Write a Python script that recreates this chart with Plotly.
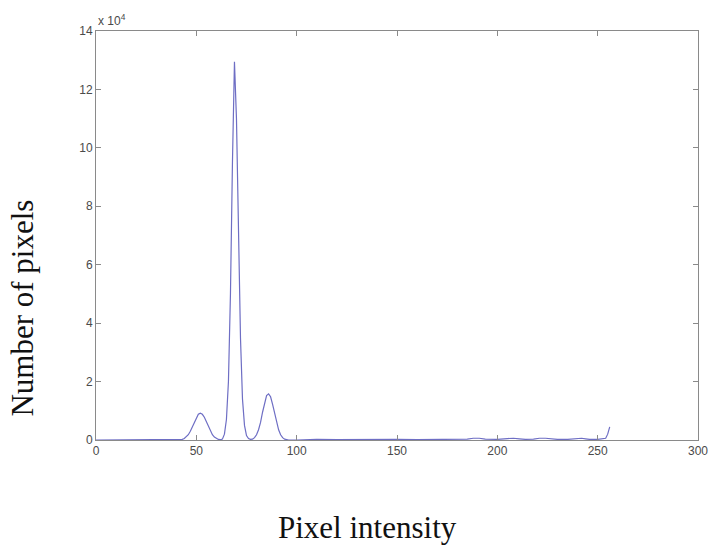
import plotly.graph_objects as go

# Pixel intensity (x) and number of pixels in units of 10^4 (y)
intensity = [0, 40, 41, 42, 43, 44, 45, 46, 47, 48, 49, 50, 51, 52, 53, 54, 55, 56, 57, 58, 59,
             60, 61, 62, 63, 64, 65, 66, 67, 68, 69, 70, 71, 72, 73, 74, 75, 76, 77, 78,
             79, 80, 81, 82, 83, 84, 85, 86, 87, 88, 89, 90, 91, 92, 93, 94, 95, 96,
             100, 110, 120, 130, 140, 150, 160, 170, 180, 185, 188, 191, 194, 197, 200,
             205, 208, 211, 214, 218, 221, 224, 227, 230, 235, 240, 242, 244, 246, 250,
             252, 254, 255, 256]
pixels_1e4 = [0.0, 0.0, 0.0, 0.01, 0.02, 0.05, 0.10, 0.18, 0.30, 0.45, 0.62, 0.78, 0.88, 0.92, 0.88, 0.78, 0.62, 0.45, 0.30, 0.18, 0.10,
              0.05, 0.02, 0.01, 0.03, 0.20, 0.70, 2.0, 5.0, 9.5, 12.95, 11.0, 7.0, 3.5, 1.4, 0.5, 0.15, 0.05, 0.02, 0.03,
              0.08, 0.18, 0.35, 0.60, 0.95, 1.30, 1.52, 1.58, 1.48, 1.22, 0.90, 0.60, 0.35, 0.18, 0.08, 0.03, 0.01, 0.0,
              0.0, 0.02, 0.01, 0.02, 0.01, 0.02, 0.01, 0.02, 0.02, 0.03, 0.06, 0.06, 0.03, 0.02, 0.02,
              0.05, 0.06, 0.04, 0.02, 0.03, 0.06, 0.06, 0.03, 0.02, 0.02, 0.05, 0.06, 0.04, 0.02, 0.02,
              0.03, 0.06, 0.20, 0.45]

x_ticks = [0, 50, 100, 150, 200, 250, 300]
y_ticks = [0, 2, 4, 6, 8, 10, 12, 14]

W, H = 720, 546
l, r, t, b = 96, 17, 31, 106
pw, ph = W - l - r, H - t - b


def px_x(px):
    return (px - l) / pw


def px_y(py):
    return (H - b - py) / ph


fig = go.Figure()
fig.add_trace(go.Scatter(x=intensity, y=pixels_1e4, mode="lines",
                         line=dict(color="#6e6ec4", width=1.2), showlegend=False))

axis_common = dict(showgrid=False, zeroline=False, showline=True, linecolor="#8a8a8a", linewidth=1,
                   mirror="ticks", ticks="inside", ticklen=5, tickcolor="#8a8a8a",
                   tickfont=dict(family="Arial, Liberation Sans, sans-serif", size=12, color="#4a4a4a"))

fig.update_layout(
    width=W, height=H,
    margin=dict(l=l, r=r, t=t, b=b),
    paper_bgcolor="white", plot_bgcolor="white",
    xaxis=dict(range=[0, 300], tickvals=x_ticks, **axis_common),
    yaxis=dict(range=[0, 14], tickvals=y_ticks, **axis_common),
    annotations=[
        dict(text="x 10<sup>4</sup>", x=0, y=1, xref="paper", yref="paper", xanchor="left", yanchor="bottom",
             yshift=1, showarrow=False, font=dict(family="Arial, Liberation Sans, sans-serif", size=12, color="#4a4a4a")),
        dict(text="Pixel intensity", x=px_x(370), y=px_y(527), xref="paper", yref="paper", showarrow=False,
             xanchor="center", yanchor="middle",
             font=dict(family="Liberation Serif, Times New Roman, serif", size=31, color="#111111")),
        dict(text="Number of pixels", x=px_x(21), y=px_y(308), xref="paper", yref="paper", showarrow=False,
             textangle=-90, xanchor="center", yanchor="middle",
             font=dict(family="Liberation Serif, Times New Roman, serif", size=31, color="#111111")),
    ],
)

fig.write_html("out.html", config={"displayModeBar": False},
               post_script="document.body.style.margin='0';document.body.style.padding='0';")
